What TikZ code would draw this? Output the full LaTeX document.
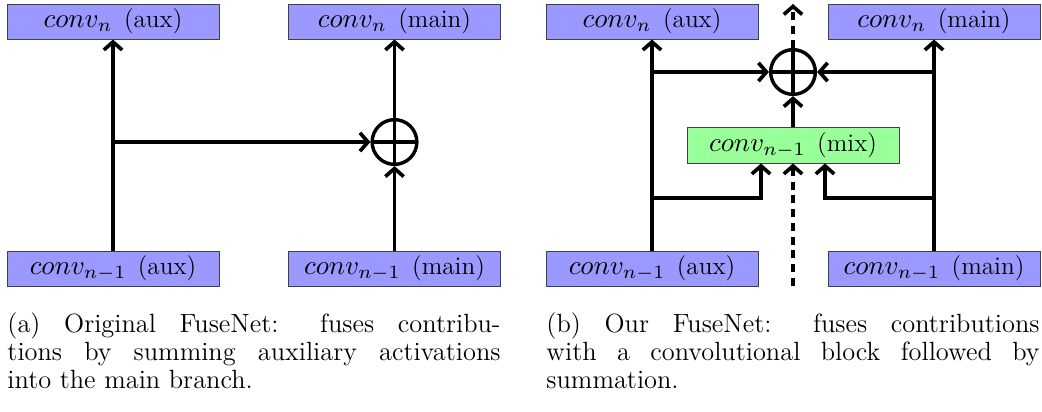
\documentclass[tikz,border=0pt]{standalone}
\usepackage{tikz}
\usepackage{graphicx}
\usetikzlibrary{positioning}
\usetikzlibrary{arrows.meta}
\usetikzlibrary{calc}
\usepackage{xcolor}

\newcommand{\convtxt}[2]{\scalebox{1.18}{$conv_{#1}$}\hspace{5pt}{\fontsize{11}{13}\selectfont(#2)}}

\tikzset{
	convbox/.style={draw=black!75, fill=blue!40, minimum width=92.4pt, minimum height=15.3pt, inner sep=0pt},
	mixbox/.style={convbox, fill=green!40, minimum height=15.7pt},
	sumnode/.style={circle, draw, line width=1.5pt, minimum size=19.5pt, inner sep=0pt,
		path picture={\draw[line width=1.5pt] (path picture bounding box.north) -- (path picture bounding box.south)
			(path picture bounding box.west) -- (path picture bounding box.east);}},
	flow/.style={line width=1.6pt, -{Straight Barb[length=3.5pt,width=8pt]}},
	skip/.style={flow, dash pattern=on 3.5pt off 2.5pt},
	capt/.style={anchor=north west, inner sep=0pt, text width=215pt, align=justify, font=\fontsize{11.5}{12.3}\selectfont}
}

\begin{document}
\begin{tikzpicture}[x=0.436pt, y=-0.436pt]
	\useasboundingbox (0,0) rectangle (1042,411);

	% (a) original
	\node[convbox] (auxtopA) at (113,21.5) {\convtxt{n}{aux}};
	\node[convbox] (maintopA) at (394.5,21.5) {\convtxt{n}{main}};
	\node[convbox] (auxbotA) at (113,268.5) {\convtxt{n-1}{aux}};
	\node[convbox] (mainbotA) at (394.5,268.5) {\convtxt{n-1}{main}};
	\node[sumnode] (sumA) at (394.5,142) {};

	\draw[flow] (auxbotA) -- (auxtopA);
	\draw[flow] (auxbotA.north |- sumA) -- (sumA);
	\draw[flow] (mainbotA) -- (sumA);
	\draw[flow] (sumA) -- (maintopA);

	% (b) ours
	\node[convbox] (auxtopB) at (652,21.5) {\convtxt{n}{aux}};
	\node[convbox] (maintopB) at (934,21.5) {\convtxt{n}{main}};
	\node[convbox] (auxbotB) at (652,268.5) {\convtxt{n-1}{aux}};
	\node[convbox] (mainbotB) at (934,268.5) {\convtxt{n-1}{main}};
	\node[sumnode] (sumB) at (793,72) {};
	\node[mixbox] (mixB) at (793,145) {\convtxt{n-1}{mix}};
	\coordinate (topend) at (793,4);
	\coordinate (botend) at (793,286);
	\coordinate (midrow) at (793,198);

	\draw[flow] (auxbotB) -- (auxtopB);
	\draw[flow] (mainbotB) -- (maintopB);
	\draw[flow] (auxbotB.north |- sumB) -- (sumB);
	\draw[flow] (mainbotB.north |- sumB) -- (sumB);
	\draw[flow] (auxbotB.north |- midrow) -| ($(mixB.south)+(-32,0)$);
	\draw[flow] (mainbotB.north |- midrow) -| ($(mixB.south)+(32,0)$);
	\draw[flow] (mixB) -- (sumB);
	\draw[skip] (botend) -- (mixB);
	\draw[skip] (sumB) -- (topend);

	\node[capt] (captA) at (7,312) {(a) Original FuseNet: fuses contribu-\linebreak tions by summing auxiliary activations\linebreak into the main branch.};
	\node[capt] (captB) at (546,312) {(b) Our FuseNet: fuses contributions\linebreak with a convolutional block followed by\linebreak summation.};
\end{tikzpicture}
\end{document}
